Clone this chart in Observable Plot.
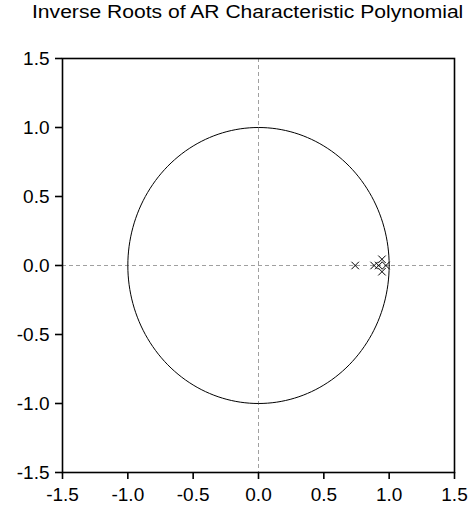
<!DOCTYPE html>
<html>
<head>
<meta charset="utf-8">
<script src="https://cdn.jsdelivr.net/npm/d3@7"></script>
<script src="https://cdn.jsdelivr.net/npm/@observablehq/plot@0.6"></script>
<style>
  html, body { margin: 0; padding: 0; background: white; }
  #title { width: 473px; height: 26px; font-family: "Liberation Sans", Arial, sans-serif; font-size: 17.5px; line-height: 22px; color: black; white-space: nowrap; overflow: visible; position: relative; }
  #title span { position: absolute; left: 32px; top: 1px; display: inline-block; transform: scaleX(1.205); transform-origin: left center; }
</style>
</head>
<body>
<div id="title"><span>Inverse Roots of AR Characteristic Polynomial</span></div>
<div id="chart"></div>
<script>
const rootRe = [0.74, 0.885, 0.92, 0.945, 0.945, 0.975];
const rootIm = [0.0, 0.0, 0.0, 0.045, -0.045, 0.0];

const tickValues = [-1.5, -1.0, -0.5, 0.0, 0.5, 1.0, 1.5];
const tickLabels = ["-1.5", "-1.0", "-0.5", "0.0", "0.5", "1.0", "1.5"];

const roots = rootRe.map((re, i) => ({re, im: rootIm[i]}));
// unit circle reference
const unitCircle = d3.range(0, 361, 2).map(a => ({re: Math.cos(a * Math.PI / 180), im: Math.sin(a * Math.PI / 180)}));

const fmt = d => tickLabels[tickValues.findIndex(v => Math.abs(v - d) < 1e-9)];

const chart = Plot.plot({
  width: 473,
  height: 484,
  marginLeft: 62,
  marginRight: 19,
  marginTop: 32,
  marginBottom: 38,
  style: {fontFamily: "Liberation Sans, Arial, sans-serif", fontSize: "19px", color: "black", background: "white"},
  x: {domain: [-1.5, 1.5]},
  y: {domain: [-1.5, 1.5]},
  marks: [
    Plot.ruleX([0], {stroke: "#a0a0a0", strokeDasharray: "4,3", strokeWidth: 1}),
    Plot.ruleY([0], {stroke: "#a0a0a0", strokeDasharray: "4,3", strokeWidth: 1}),
    Plot.line(unitCircle, {x: "re", y: "im", stroke: "black", strokeWidth: 1, curve: "linear"}),
    Plot.dot(roots, {x: "re", y: "im", symbol: "times", r: 3.5, stroke: "black", strokeWidth: 1}),
    Plot.frame({stroke: "black", strokeWidth: 1.6}),
    Plot.axisX({ticks: tickValues, tickFormat: fmt, tickSize: 7, tickPadding: 8, label: null, strokeWidth: 1.6, fontSize: 19}),
    Plot.axisY({ticks: tickValues, tickFormat: fmt, tickSize: 7, tickPadding: 6, label: null, strokeWidth: 1.6, fontSize: 19})
  ]
});
document.getElementById("chart").appendChild(chart);
</script>
</body>
</html>
